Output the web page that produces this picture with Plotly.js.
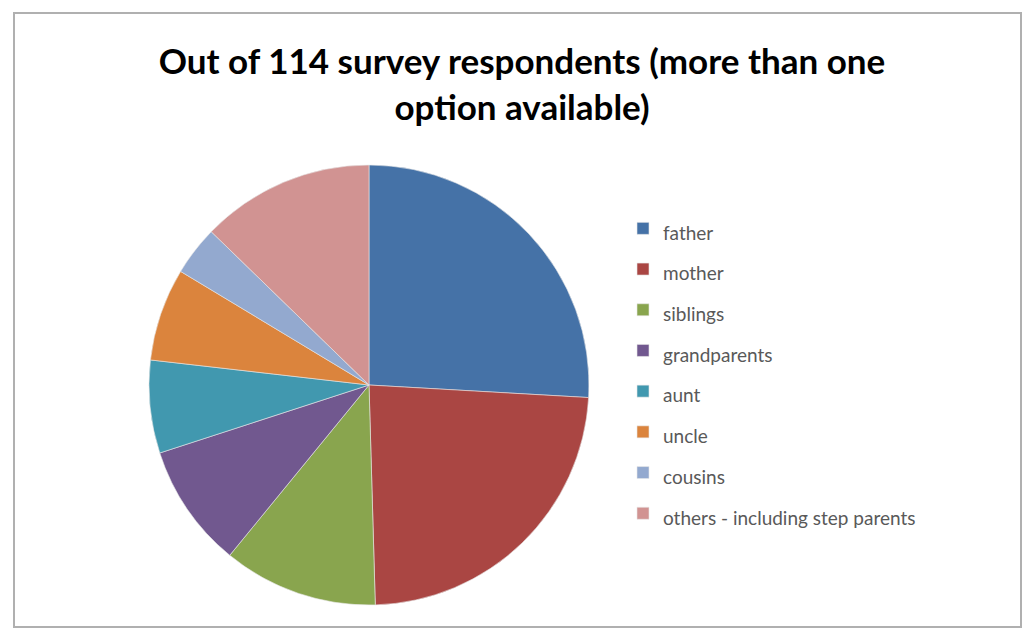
<!DOCTYPE html>
<html>
<head>
<meta charset="utf-8">
<script src="https://cdn.plot.ly/plotly-3.0.1.min.js"></script>
<style>
  html, body { margin: 0; padding: 0; background: #ffffff; }
  #chart { width: 1025px; height: 630px; }
</style>
</head>
<body>
<div id="chart"></div>
<script>
// Data
const categories = ["father", "mother", "siblings", "grandparents", "aunt", "uncle", "cousins", "others - including step parents"];
const values = [57, 52, 25, 20, 15, 15, 8, 28];
const colors = ["#4572A7", "#AA4643", "#89A54E", "#71588F", "#4198AF", "#DB843D", "#93A9CF", "#D19392"];
const titleText = "Out of 114 survey respondents (more than one<br>option available)";

const W = 1025, H = 630;
const px = x => x / W;
const py = y => 1 - y / H;

const legendLabels = categories.map(c => '<span style="font-size:19px">' + c + '</span>');

const trace = {
  type: "pie",
  labels: legendLabels,
  values: values,
  sort: false,
  direction: "clockwise",
  rotation: 0,
  textinfo: "none",
  hoverinfo: "label+value",
  marker: { colors: colors, line: { color: "#e8e8e8", width: 0.6 } },
  domain: { x: [px(149), px(589)], y: [py(605), py(165)] }
};

const layout = {
  width: W, height: H,
  margin: { l: 0, r: 0, t: 0, b: 0 },
  paper_bgcolor: "#ffffff",
  title: {
    text: titleText,
    font: { family: "Lato, 'Open Sans', sans-serif", size: 35, color: "#000000", weight: "bold" },
    x: px(522), xanchor: "center",
    y: py(74), yanchor: "top",
    xref: "paper", yref: "paper"
  },
  showlegend: true,
  legend: {
    x: px(623), xanchor: "left",
    y: py(203), yanchor: "top",
    font: { family: "Lato, 'Open Sans', sans-serif", size: 29, color: "#595959" },
    bgcolor: "rgba(0,0,0,0)",
    itemclick: false, itemdoubleclick: false
  },
  shapes: [{
    type: "rect", xref: "paper", yref: "paper",
    x0: px(14), x1: px(1021), y0: py(627), y1: py(13),
    line: { color: "#b0b0b0", width: 2 }, fillcolor: "rgba(0,0,0,0)"
  }]
};

Plotly.newPlot("chart", [trace], layout, { displayModeBar: false, staticPlot: true });
</script>
</body>
</html>
